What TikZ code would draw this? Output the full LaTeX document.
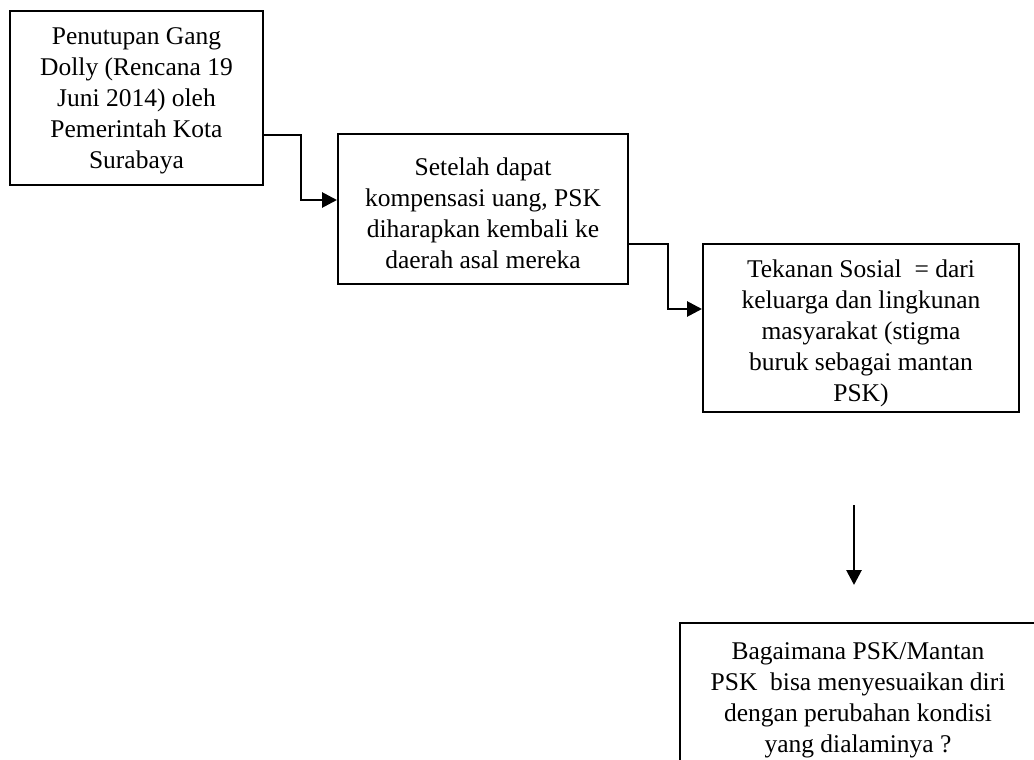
\documentclass[tikz,border=0pt]{standalone}
\usepackage{fontspec}
\setmainfont{Liberation Serif}
\usetikzlibrary{arrows.meta}
\newcommand{\tinggi}[1]{\rule{0pt}{#1}}

\begin{document}
\begin{tikzpicture} [x=1pt, y=-1pt,
  kotak/.style={draw, line width=2pt, inner sep=0, align=center,
    font=\fontsize{25.5}{31}\selectfont},
  panah/.style={line width=2.8pt, -{Triangle[length=15pt,width=15pt]}}]
\useasboundingbox (0,0) rectangle (1034,760);
\clip (0,0) rectangle (1034,760);
\node[kotak, minimum width=253, minimum height=174] (tutup) at (136.5,98)
  {\tinggi{23pt}Penutupan Gang\\Dolly (Rencana 19\\Juni 2014) oleh\\Pemerintah Kota\\Surabaya};
\node[kotak, minimum width=290, minimum height=150] (kompensasi) at (483,209)
  {\tinggi{27pt}Setelah dapat\\kompensasi uang, PSK\\diharapkan kembali ke\\daerah asal mereka};
\node[kotak, minimum width=316, minimum height=168] (tekanan) at (861,328)
  {\tinggi{29pt}Tekanan Sosial\ \ = dari\\keluarga dan lingkunan\\masyarakat (stigma\\buruk sebagai mantan\\PSK)};
\node[kotak, minimum width=356, minimum height=154, anchor=north west] (adaptasi) at (679,622)
  {Bagaimana PSK/Mantan\\PSK\ \ bisa menyesuaikan diri\\dengan perubahan kondisi\\yang dialaminya ?};
% panah antar kotak
\draw[panah] ([yshift=-37pt]tutup.east) -- ++(37,0) |- ([yshift=9pt]kompensasi.west);
\draw[panah] ([yshift=-35pt]kompensasi.east) -- ++(39,0) |- ([yshift=19pt]tekanan.west);
\coordinate (turun) at (854,505);
\coordinate (turun ujung) at (854,585);
\draw[panah] (turun) -- (turun ujung);
\end{tikzpicture}
\end{document}
